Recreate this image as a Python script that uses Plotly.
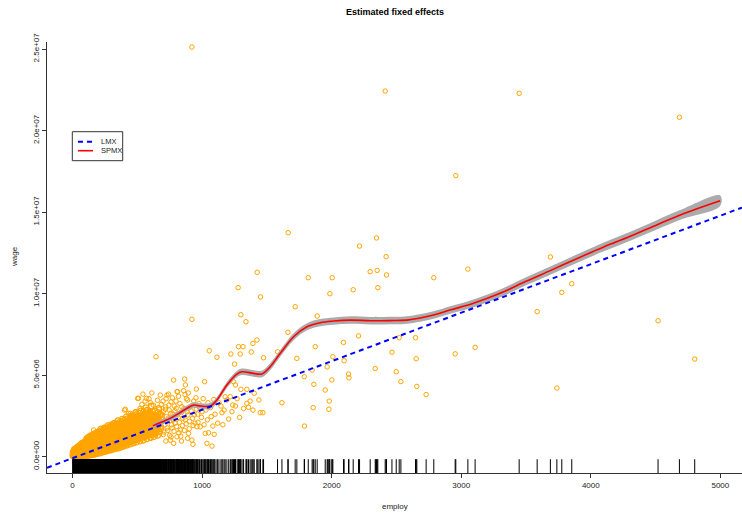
import numpy as np
import plotly.graph_objects as go

# ---------------- data (wage in millions) ----------------
# dense cluster: employ value -> wages observed at that employ value
core_employ = [3, 8, 14, 20, 27, 33, 40, 47, 54, 61, 68, 75, 83, 90, 98, 105, 113, 120, 128, 136,
               144, 152, 160, 168, 176, 184, 192, 200, 209, 218, 227, 236, 245, 254, 263, 272, 281, 290, 300, 310,
               320, 330, 340, 350, 361, 372, 383, 394, 405, 416, 428, 440, 452, 464, 476, 488, 500, 513, 526, 539,
               552, 566, 580, 594, 608, 622, 636, 650, 665, 680]
core_wages = [
    [0.02, 0.10, 0.25], [0.05, 0.18, 0.35], [0.03, 0.12, 0.28, 0.45], [0.08, 0.22, 0.40],
    [0.04, 0.15, 0.30, 0.52], [0.10, 0.25, 0.45], [0.06, 0.20, 0.38, 0.60], [0.12, 0.30, 0.50],
    [0.05, 0.22, 0.42, 0.66], [0.15, 0.33, 0.55], [0.08, 0.27, 0.48, 0.75], [0.18, 0.38, 0.62],
    [0.06, 0.30, 0.52, 0.80], [0.20, 0.42, 0.68], [0.10, 0.35, 0.58, 0.88], [0.24, 0.46, 0.74, 1.00],
    [0.08, 0.40, 0.64, 0.92], [0.28, 0.52, 0.80, 1.08], [0.12, 0.45, 0.70, 0.98], [0.32, 0.58, 0.86, 1.15],
    [0.10, 0.50, 0.76, 1.04], [0.36, 0.62, 0.92, 1.22], [0.16, 0.55, 0.82, 1.10, 1.38], [0.40, 0.68, 0.98, 1.28],
    [0.20, 0.60, 0.88, 1.16], [0.44, 0.72, 1.04, 1.34], [0.24, 0.66, 0.94, 1.22, 1.50], [0.48, 0.78, 1.10, 1.40],
    [0.28, 0.70, 1.00, 1.28], [0.52, 0.84, 1.16, 1.46, 1.70], [0.32, 0.76, 1.06, 1.34], [0.56, 0.90, 1.22, 1.52],
    [0.36, 0.82, 1.12, 1.42, 1.75], [0.62, 0.96, 1.28, 1.58], [0.40, 0.88, 1.18, 1.48], [0.66, 1.00, 1.34, 1.64, 1.90],
    [0.45, 0.92, 1.24, 1.54], [0.70, 1.06, 1.40, 1.70], [0.50, 0.98, 1.30, 1.60, 1.95], [0.76, 1.12, 1.46, 1.78],
    [0.55, 1.04, 1.36, 1.66, 2.05], [0.82, 1.18, 1.52, 1.86], [0.60, 1.10, 1.44, 1.74], [0.88, 1.24, 1.58, 1.92, 2.20],
    [0.66, 1.16, 1.50, 1.82], [0.94, 1.30, 1.66, 2.00], [0.72, 1.22, 1.56, 1.90, 2.30], [1.00, 1.38, 1.72, 2.08],
    [0.78, 1.28, 1.64, 1.98], [1.06, 1.44, 1.80, 2.16, 2.45], [0.85, 1.36, 1.70, 2.06], [1.12, 1.50, 1.88, 2.24],
    [0.92, 1.42, 1.78, 2.14, 2.50], [1.18, 1.58, 1.96, 2.32], [0.98, 1.48, 1.86, 2.22], [1.24, 1.64, 2.04, 2.40, 2.70],
    [1.05, 1.56, 1.94, 2.30], [1.30, 1.70, 2.10, 2.48], [1.12, 1.62, 2.02, 2.38, 2.80], [1.36, 1.78, 2.18, 2.56],
    [1.20, 1.68, 2.08, 2.46], [1.42, 1.84, 2.26, 2.64, 3.00], [1.28, 1.76, 2.16, 2.54], [1.50, 1.92, 2.34, 2.72],
    [1.36, 1.82, 2.24, 2.62, 3.10], [1.56, 2.00, 2.42], [1.46, 1.90, 2.32, 2.80], [1.62, 2.06, 2.50],
    [1.52, 1.96, 2.40, 2.95], [1.70, 2.14, 2.60],
]
core2_employ = [6, 11, 17, 24, 30, 37, 44, 51, 58, 65, 72, 79, 87, 94, 102, 109, 117, 124, 132, 140,
                148, 156, 164, 172, 180, 188, 196, 205, 214, 223, 232, 241, 250, 259, 268, 277, 286, 295, 305, 315,
                325, 335, 345, 356, 367, 378, 389, 400, 411, 422, 434, 446, 458, 470, 482, 494, 507, 520, 533, 546,
                559, 573, 587, 601, 615, 629, 643, 658, 672]
core2_wages = [
    [0.06, 0.20], [0.02, 0.14, 0.30], [0.06, 0.20, 0.36], [0.02, 0.14, 0.32, 0.48],
    [0.08, 0.22, 0.40], [0.03, 0.16, 0.32, 0.54], [0.09, 0.26, 0.45], [0.04, 0.18, 0.36, 0.58],
    [0.10, 0.28, 0.50, 0.70], [0.04, 0.22, 0.40, 0.62], [0.12, 0.32, 0.56, 0.82], [0.05, 0.26, 0.46, 0.70],
    [0.14, 0.36, 0.60, 0.86], [0.06, 0.30, 0.52, 0.78], [0.16, 0.40, 0.66, 0.94], [0.07, 0.34, 0.58, 0.86, 1.12],
    [0.18, 0.46, 0.72, 1.00], [0.08, 0.38, 0.64, 0.92, 1.20], [0.20, 0.50, 0.78, 1.06], [0.10, 0.44, 0.70, 0.98, 1.28],
    [0.22, 0.56, 0.84, 1.12], [0.12, 0.48, 0.76, 1.04, 1.32], [0.26, 0.62, 0.90, 1.20], [0.14, 0.52, 0.80, 1.08, 1.40],
    [0.30, 0.66, 0.96, 1.26], [0.18, 0.56, 0.86, 1.16, 1.46], [0.34, 0.72, 1.02, 1.32], [0.20, 0.62, 0.92, 1.22, 1.54],
    [0.38, 0.76, 1.08, 1.38], [0.24, 0.66, 0.98, 1.28, 1.60], [0.42, 0.82, 1.14, 1.44], [0.28, 0.72, 1.04, 1.36, 1.66],
    [0.46, 0.88, 1.20, 1.50], [0.32, 0.78, 1.10, 1.42, 1.72], [0.50, 0.92, 1.26, 1.56], [0.36, 0.84, 1.16, 1.48, 1.80],
    [0.54, 0.98, 1.32, 1.62], [0.40, 0.88, 1.22, 1.54, 1.86], [0.58, 1.04, 1.38, 1.70], [0.44, 0.94, 1.28, 1.60, 1.94],
    [0.62, 1.10, 1.44, 1.76], [0.48, 1.00, 1.34, 1.66, 2.00], [0.68, 1.16, 1.50, 1.84], [0.52, 1.06, 1.40, 1.74, 2.08],
    [0.74, 1.22, 1.58, 1.92], [0.58, 1.12, 1.48, 1.82, 2.16], [0.80, 1.30, 1.64, 2.00], [0.64, 1.18, 1.54, 1.90, 2.24],
    [0.86, 1.36, 1.72, 2.08], [0.70, 1.26, 1.62, 1.96, 2.32], [0.92, 1.42, 1.80, 2.16], [0.76, 1.32, 1.70, 2.04, 2.40],
    [0.98, 1.50, 1.88, 2.24], [0.82, 1.40, 1.76, 2.12, 2.48], [1.04, 1.56, 1.96, 2.32], [0.88, 1.46, 1.84, 2.20, 2.58],
    [1.10, 1.62, 2.02, 2.40], [0.94, 1.54, 1.92, 2.28, 2.66], [1.16, 1.70, 2.10, 2.50], [1.00, 1.60, 2.00, 2.36, 2.74],
    [1.22, 1.76, 2.18, 2.56], [1.08, 1.66, 2.06, 2.44, 2.85], [1.30, 1.84, 2.26, 2.66], [1.14, 1.72, 2.14, 2.52],
    [1.38, 1.90, 2.34, 2.76], [1.22, 1.80, 2.22], [1.44, 1.98, 2.44], [1.30, 1.86, 2.30, 2.70], [1.52, 2.04, 2.52],
]

# scattered middle points
mid_employ = [644, 1055, 1114, 1222, 1281, 1315, 1294, 1379, 1392, 1423,
              1250, 1474, 1662, 1582, 1731, 1873, 2009, 2096, 2130, 2133,
              1862, 1950, 1981, 1790, 1616, 1438, 1469, 1448, 1392, 1289,
              1345, 1358, 1299, 1345, 1402, 1217, 1236, 1257, 1153, 1178,
              1191, 1242, 1257, 1019, 955, 1083, 1093, 929, 780, 865,
              871, 811, 857, 888, 502, 407, 446, 677, 728, 955,
              1029, 985, 1024, 1049, 1037, 1076, 960, 895, 888, 921,
              780, 754, 806, 832, 543, 741, 806, 509, 569, 600,
              401, 432, 484, 162, 265, 316,
              520, 535, 548, 560, 575, 590, 605, 612, 625, 640,
              655, 668, 685, 690, 700, 712, 718, 725, 735, 745,
              752, 760, 768, 775, 785, 792, 800, 815, 820, 828,
              840, 848, 860, 870, 878, 890, 900, 910, 925, 935,
              945, 965, 975, 995, 1008, 1040, 1065, 1100, 1130, 1160,
              700, 760, 840, 640, 600, 720,
              685, 693, 698, 705, 710, 716, 722, 730, 738, 743,
              750, 757, 763, 770, 778, 783, 790, 798, 803, 810,
              817, 825, 835, 843, 852, 862, 868, 876, 884, 893,
              903, 915, 930, 940, 952, 968, 980, 1000, 1015, 1045,
              1070, 1090, 1120, 1145, 1170, 1205, 1230, 1270, 1320, 1370]
mid_wage = [6.12, 6.49, 6.09, 6.29, 6.74, 6.74, 6.29, 6.41, 6.94, 7.15,
            5.67, 6.06, 7.62, 6.43, 6.02, 6.74, 6.12, 5.88, 5.06, 4.83,
            4.43, 4.08, 3.40, 1.87, 3.30, 3.47, 2.69, 2.69, 2.85, 2.40,
            3.26, 3.02, 4.12, 4.12, 3.88, 3.67, 3.16, 3.10, 2.69, 3.67,
            3.47, 4.59, 4.39, 4.59, 4.14, 1.87, 1.36, 0.75, 4.69, 4.75,
            4.39, 3.98, 4.04, 3.47, 3.57, 2.90, 2.65, 3.77, 3.77, 2.91,
            2.85, 1.83, 1.42, 1.46, 0.81, 0.64, 1.83, 1.42, 1.12, 1.01,
            0.81, 1.01, 1.21, 1.63, 3.83, 3.83, 3.98, 3.57, 3.57, 3.30,
            2.85, 2.65, 2.75, 1.63, 1.42, 1.83,
            2.95, 3.20, 2.60, 3.40, 2.85, 3.55, 2.70, 3.90, 3.15, 2.55,
            3.45, 2.90, 3.20, 2.30, 2.75, 1.95, 3.05, 2.45, 1.60, 2.85,
            2.20, 3.35, 1.75, 2.60, 3.10, 2.05, 2.95, 2.40, 1.45, 3.25,
            2.70, 1.90, 2.95, 2.25, 3.55, 2.55, 1.70, 3.05, 2.35, 3.40,
            2.05, 2.60, 3.25, 2.40, 3.55, 2.25, 3.00, 2.60, 3.30, 1.95,
            1.35, 1.20, 0.95, 1.30, 1.15, 0.95,
            1.85, 2.55, 3.40, 1.50, 2.20, 2.90, 3.55, 1.75, 2.35, 3.15,
            1.30, 2.65, 1.95, 3.60, 2.25, 1.55, 2.80, 3.40, 1.85, 2.55,
            3.70, 2.10, 1.25, 3.05, 2.35, 1.60, 3.80, 2.00, 2.75, 3.90,
            2.15, 2.80, 1.90, 2.55, 3.60, 2.10, 3.00, 2.75, 1.95, 3.30,
            2.45, 3.50, 2.05, 3.10, 2.85, 2.30, 2.75, 3.55, 2.95, 3.40]

# large / outlying points
out_employ = [921, 2413, 3447, 4684, 2958, 1664, 2346, 2215, 2420, 3688,
              1425, 2297, 2351, 2423, 3051, 1819, 2004, 2788, 1278, 3853,
              3776, 1450, 1986, 2166, 2356, 1718, 1299, 1338, 921, 1888,
              3586, 4519, 4802, 2521, 2647, 1970, 2340,
              2465, 2498, 2534, 2652, 2657, 2729, 2953, 3107, 3738, 2336,
              1849, 1857, 1788, 2207, 2091, 1965, 1978, 2001]
out_wage = [25.12, 22.42, 22.28, 20.81, 17.23, 13.73, 13.41, 12.91, 12.26, 12.24,
            11.30, 11.34, 11.42, 11.14, 11.50, 10.97, 10.97, 10.97, 10.36, 10.60,
            10.07, 9.79, 9.99, 10.23, 10.36, 9.19, 8.70, 8.27, 8.42, 8.62,
            8.89, 8.33, 5.98, 7.29, 7.29, 8.27, 8.42,
            6.40, 5.20, 4.60, 6.00, 4.30, 3.80, 6.30, 6.70, 4.20, 5.40,
            5.30, 3.00, 4.90, 7.40, 7.00, 5.50, 2.90, 4.70]

# SPMX fitted curve and half-width of its band (millions)
spmx_employ = [620, 651, 700, 754, 820, 883, 934, 985, 1063, 1114,
               1191, 1268, 1307, 1397, 1461, 1525, 1603, 1706, 1809, 1911,
               2014, 2143, 2300, 2450, 2580, 2786, 2914, 3094, 3300, 3500,
               3700, 3900, 4100, 4300, 4500, 4700, 4998]
spmx_wage = [1.88, 1.99, 2.15, 2.34, 2.65, 2.96, 3.16, 3.10, 3.10, 3.47,
             4.39, 5.06, 5.20, 5.10, 5.06, 5.51, 6.33, 7.35, 7.96, 8.21,
             8.31, 8.37, 8.33, 8.34, 8.37, 8.68, 8.99, 9.40, 10.01, 10.75,
             11.45, 12.17, 12.86, 13.50, 14.18, 14.85, 15.69]
spmx_band = [0.14, 0.14, 0.15, 0.15, 0.16, 0.17, 0.17, 0.17, 0.18, 0.18,
             0.19, 0.19, 0.20, 0.20, 0.20, 0.21, 0.21, 0.22, 0.22, 0.22,
             0.22, 0.23, 0.23, 0.23, 0.23, 0.23, 0.23, 0.24, 0.24, 0.25,
             0.25, 0.26, 0.27, 0.28, 0.29, 0.30, 0.32]

# LMX linear fit
lmx_intercept = -0.10   # millions
lmx_slope = 0.002975    # millions per employee

x_ticks = [0, 1000, 2000, 3000, 4000, 5000]
y_ticks = [0, 5e6, 1e7, 1.5e7, 2e7, 2.5e7]
y_ticklabels = ["0.0e+00", "5.0e+06", "1.0e+07", "1.5e+07", "2.0e+07", "2.5e+07"]

# ---------------- build ----------------
M = 1e6
ce, cw = [], []
for emp_list, wage_lists in ((core_employ, core_wages), (core2_employ, core2_wages)):
    for e, ws in zip(emp_list, wage_lists):
        for w in ws:
            ce.append(e)
            cw.append(w)
core_e = np.array(ce, dtype=float)
core_w = np.array(cw, dtype=float) * M
rest_e = np.array(mid_employ + out_employ, dtype=float)
rest_w = np.array(mid_wage + out_wage, dtype=float) * M
all_e = np.concatenate([core_e, rest_e])

x_range = [-197.5, 5167]
y_range = [-1.01e6, 25.43e6]

W, H = 742, 516
ml, mr, mt, mb = 47, 0, 42, 43
pw, ph = W - ml - mr, H - mt - mb
FONT = "Liberation Sans, Arial, sans-serif"
TXT = "#222222"
ORANGE = "#FFA500"

fig = go.Figure()

fig.add_trace(go.Scatter(
    x=core_e, y=core_w, mode="markers",
    marker=dict(symbol="circle-open", size=5.5, color=ORANGE, line=dict(width=1.3, color=ORANGE)),
    hoverinfo="skip", showlegend=False))
fig.add_trace(go.Scatter(
    x=rest_e, y=rest_w, mode="markers",
    marker=dict(symbol="circle-open", size=4.5, color=ORANGE, line=dict(width=1, color=ORANGE)),
    hoverinfo="skip", showlegend=False))

# rug
rug_top = y_range[0] + 0.032 * (y_range[1] - y_range[0])
rx, ry = [], []
for e in all_e:
    rx += [e, e, None]
    ry += [y_range[0], rug_top, None]
fig.add_trace(go.Scatter(x=rx, y=ry, mode="lines", line=dict(color="black", width=1),
                         hoverinfo="skip", showlegend=False))

# SPMX band
se = np.array(spmx_employ, float)
sw = np.array(spmx_wage, float) * M
sb = np.array(spmx_band, float) * M
fig.add_trace(go.Scatter(
    x=np.concatenate([se, se[::-1]]), y=np.concatenate([sw + sb, (sw - sb)[::-1]]),
    fill="toself", fillcolor="#ABABAB", line=dict(width=0, shape="spline"), mode="lines",
    hoverinfo="skip", showlegend=False))
fig.add_trace(go.Scatter(x=se, y=sw, mode="lines", line=dict(color="#FF0000", width=1.6, shape="spline"),
                         hoverinfo="skip", showlegend=False))

# LMX line
lx = np.array(x_range)
fig.add_trace(go.Scatter(x=lx, y=(lmx_intercept + lmx_slope * lx) * M, mode="lines",
                         line=dict(color="#0000FF", width=2, dash="5px,4px"),
                         hoverinfo="skip", showlegend=False))

axis_common = dict(showgrid=False, zeroline=False, showline=True, linecolor="#333333", linewidth=1,
                   ticks="outside", ticklen=4, tickcolor="#333333", tickwidth=1,
                   tickfont=dict(family=FONT, size=8, color=TXT), mirror=False)
fig.update_xaxes(range=x_range, tickvals=x_ticks, ticktext=[str(v) for v in x_ticks], **axis_common)
fig.update_yaxes(range=y_range, tickvals=y_ticks, ticktext=y_ticklabels, tickangle=-90, **axis_common)

def px_x(p):
    return (p - ml) / pw

def px_y(p):
    return (H - mb - p) / ph

annotations = [
    dict(text="<b>Estimated fixed effects</b>", x=px_x(394.5), y=px_y(12), xref="paper", yref="paper",
         showarrow=False, font=dict(family=FONT, size=9, color="#000000"), xanchor="center", yanchor="middle"),
    dict(text="employ", x=px_x(394.5), y=px_y(507), xref="paper", yref="paper",
         showarrow=False, font=dict(family=FONT, size=8, color=TXT), xanchor="center", yanchor="middle"),
    dict(text="wage", x=px_x(14), y=px_y(257), xref="paper", yref="paper", textangle=-90,
         showarrow=False, font=dict(family=FONT, size=8, color=TXT), xanchor="center", yanchor="middle"),
    dict(text="LMX", x=px_x(99), y=px_y(141.7), xref="paper", yref="paper",
         showarrow=False, font=dict(family=FONT, size=7.5, color=TXT), xanchor="left", yanchor="middle"),
    dict(text="SPMX", x=px_x(99), y=px_y(150.9), xref="paper", yref="paper",
         showarrow=False, font=dict(family=FONT, size=7.5, color=TXT), xanchor="left", yanchor="middle"),
]
shapes = [
    dict(type="rect", xref="paper", yref="paper", x0=px_x(72.3), x1=px_x(122.7), y0=px_y(160.7), y1=px_y(131.7),
         line=dict(color="#333333", width=1), fillcolor="white"),
    dict(type="line", xref="paper", yref="paper", x0=px_x(78), x1=px_x(93), y0=px_y(141.7), y1=px_y(141.7),
         line=dict(color="#0000FF", width=2, dash="5px,4px")),
    dict(type="line", xref="paper", yref="paper", x0=px_x(78), x1=px_x(93), y0=px_y(150.7), y1=px_y(150.7),
         line=dict(color="#FF0000", width=1.6)),
]

fig.update_layout(width=W, height=H, margin=dict(l=ml, r=mr, t=mt, b=mb),
                  paper_bgcolor="white", plot_bgcolor="white",
                  annotations=annotations, shapes=shapes, showlegend=False)

fig.write_html("out.html", config={"displayModeBar": False},
               post_script="document.body.style.margin='0px';document.body.style.overflow='hidden';")
